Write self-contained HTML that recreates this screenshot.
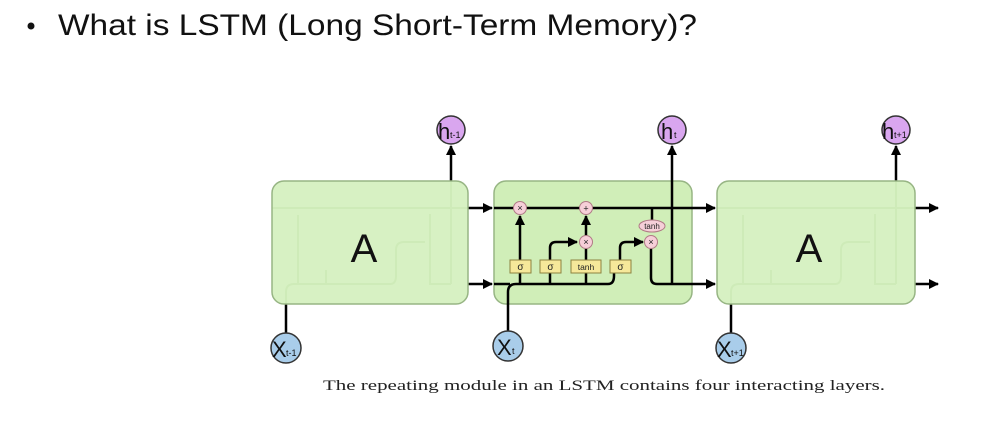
<!DOCTYPE html>
<html><head><meta charset="utf-8"><style>
html,body{margin:0;padding:0;background:#fff;width:990px;height:424px;overflow:hidden}
</style></head><body>
<svg width="990" height="424" viewBox="0 0 990 424" xmlns="http://www.w3.org/2000/svg">
<defs>
<marker id="ar" markerWidth="10" markerHeight="10" refX="9" refY="5" orient="auto" markerUnits="userSpaceOnUse"><path d="M0,0 L10,5 L0,10 z" fill="#000"/></marker>
<marker id="arl" markerWidth="10" markerHeight="10" refX="9" refY="5" orient="auto" markerUnits="userSpaceOnUse"><path d="M0,0 L10,5 L0,10 z" fill="#b8cfa8"/></marker>
</defs>
<circle cx="31" cy="26" r="3.5" fill="#111"/>
<text x="58" y="35" font-family="Liberation Sans, sans-serif" font-size="30" fill="#111" textLength="639" lengthAdjust="spacingAndGlyphs">What is LSTM (Long Short-Term Memory)?</text>

<!-- connectors between boxes -->
<g stroke="#000" stroke-width="2.5" fill="none">
<line x1="451" y1="181" x2="451" y2="146" marker-end="url(#ar)"/>
<line x1="896" y1="181" x2="896" y2="146" marker-end="url(#ar)"/>
<line x1="286" y1="333" x2="286" y2="304"/>
<line x1="731" y1="333" x2="731" y2="304"/>
<line x1="468" y1="208" x2="492" y2="208" marker-end="url(#ar)"/>
<line x1="468" y1="284" x2="492" y2="284" marker-end="url(#ar)"/>
<line x1="915" y1="208" x2="938" y2="208" marker-end="url(#ar)"/>
<line x1="915" y1="284" x2="938" y2="284" marker-end="url(#ar)"/>
</g>

<!-- faded boxes -->
<g>
<g stroke="#c3d6b5" stroke-width="2" fill="none">
<line x1="272" y1="208" x2="468" y2="208"/>
<path d="M286,304 L286,292 Q286,284 294,284 L390,284 Q396,284 396,276 L396,250 Q396,242 404,242 L425,242"/>
<line x1="298" y1="284" x2="298" y2="215"/><line x1="326" y1="284" x2="326" y2="270"/>
<path d="M430,214 L430,284 L451,284"/><line x1="451" y1="181" x2="451" y2="284"/>
<line x1="717" y1="208" x2="915" y2="208"/>
<path d="M731,304 L731,292 Q731,284 739,284 L835,284 Q841,284 841,276 L841,250 Q841,242 849,242 L870,242"/>
<line x1="743" y1="284" x2="743" y2="215"/><line x1="771" y1="284" x2="771" y2="270"/>
<path d="M875,214 L875,284 L896,284"/><line x1="896" y1="181" x2="896" y2="284"/>
</g>
<rect x="272" y="181" width="196" height="123" rx="12" fill="#d0eeb8" fill-opacity="0.85" stroke="#97b584" stroke-width="1.5"/>
<rect x="717" y="181" width="198" height="123" rx="12" fill="#d0eeb8" fill-opacity="0.85" stroke="#97b584" stroke-width="1.5"/>
<text x="364" y="262" font-family="Liberation Sans, sans-serif" font-size="40" text-anchor="middle" fill="#111">A</text>
<text x="809" y="262" font-family="Liberation Sans, sans-serif" font-size="40" text-anchor="middle" fill="#111">A</text>
</g>

<!-- middle box -->
<rect x="494" y="181" width="198" height="123" rx="12" fill="#d0eeb8" stroke="#97b584" stroke-width="1.5"/>
<g stroke="#000" stroke-width="2.5" fill="none">
<line x1="494" y1="208" x2="715" y2="208" marker-end="url(#ar)"/>
<path d="M508,331 L508,292 Q508,284 516,284 L608,284 Q614,284 614,276 L614,270"/>
<path d="M494,284 L510,284"/>
<line x1="520" y1="284" x2="520" y2="272"/>
<line x1="520" y1="260" x2="520" y2="216" marker-end="url(#ar)"/>
<line x1="550" y1="284" x2="550" y2="272"/>
<path d="M550,260 L550,248 Q550,242 556,242 L577,242" marker-end="url(#ar)"/>
<line x1="586" y1="284" x2="586" y2="272"/>
<line x1="586" y1="260" x2="586" y2="249"/>
<line x1="586" y1="236" x2="586" y2="216" marker-end="url(#ar)"/>
<path d="M620,260 L620,248 Q620,242 626,242 L643,242" marker-end="url(#ar)"/>
<line x1="652" y1="208" x2="652" y2="220"/>
<path d="M651,249 L651,278 Q651,284 657,284 L715,284" marker-end="url(#ar)"/>
<line x1="672" y1="284" x2="672" y2="146" marker-end="url(#ar)"/>
</g>
<g font-family="Liberation Sans, sans-serif" font-size="9" text-anchor="middle" fill="#222">
<circle cx="520" cy="208" r="6.5" fill="#f6cfd8" stroke="#b07a86"/><text x="520" y="211">×</text>
<circle cx="586" cy="208" r="6.5" fill="#f6cfd8" stroke="#b07a86"/><text x="586" y="211.5">+</text>
<circle cx="586" cy="242" r="6.5" fill="#f6cfd8" stroke="#b07a86"/><text x="586" y="245">×</text>
<circle cx="651" cy="242" r="6.5" fill="#f6cfd8" stroke="#b07a86"/><text x="651" y="245">×</text>
<ellipse cx="652" cy="226" rx="13" ry="6" fill="#f6cfd8" stroke="#b07a86"/><text x="652" y="229" font-size="8">tanh</text>
<rect x="510" y="260" width="21" height="13" fill="#f6e89a" stroke="#8d8240"/><text x="520.5" y="270" font-size="10">σ</text>
<rect x="540" y="260" width="21" height="13" fill="#f6e89a" stroke="#8d8240"/><text x="550.5" y="270" font-size="10">σ</text>
<rect x="571" y="260" width="30" height="13" fill="#f6e89a" stroke="#8d8240"/><text x="586" y="270" font-size="8.5">tanh</text>
<rect x="610" y="260" width="21" height="13" fill="#f6e89a" stroke="#8d8240"/><text x="620.5" y="270" font-size="10">σ</text>
</g>

<!-- io circles -->
<g font-family="Liberation Sans, sans-serif" fill="#111">
<circle cx="451" cy="130" r="14" fill="#d9a6ef" stroke="#333" stroke-width="1.5"/>
<text x="438" y="139" font-size="22">h</text><text x="450" y="138" font-size="9">t-1</text>
<circle cx="672" cy="130" r="14" fill="#d9a6ef" stroke="#333" stroke-width="1.5"/>
<text x="661" y="139" font-size="22">h</text><text x="674" y="138" font-size="9">t</text>
<circle cx="896" cy="130" r="14" fill="#d9a6ef" stroke="#333" stroke-width="1.5"/>
<text x="882" y="139" font-size="22">h</text><text x="894" y="138" font-size="9">t+1</text>
<circle cx="286" cy="348" r="15" fill="#a9cdea" stroke="#333" stroke-width="1.5"/>
<text x="272" y="357" font-size="22">X</text><text x="286" y="356" font-size="9">t-1</text>
<circle cx="508" cy="346" r="15" fill="#a9cdea" stroke="#333" stroke-width="1.5"/>
<text x="497" y="355" font-size="22">X</text><text x="512" y="354" font-size="9">t</text>
<circle cx="731" cy="348" r="15" fill="#a9cdea" stroke="#333" stroke-width="1.5"/>
<text x="717" y="357" font-size="22">X</text><text x="731" y="356" font-size="9">t+1</text>
</g>

<text x="604" y="390" font-family="Liberation Serif, serif" font-size="15" text-anchor="middle" fill="#222" textLength="562" lengthAdjust="spacingAndGlyphs">The repeating module in an LSTM contains four interacting layers.</text>
</svg>
</body></html>
